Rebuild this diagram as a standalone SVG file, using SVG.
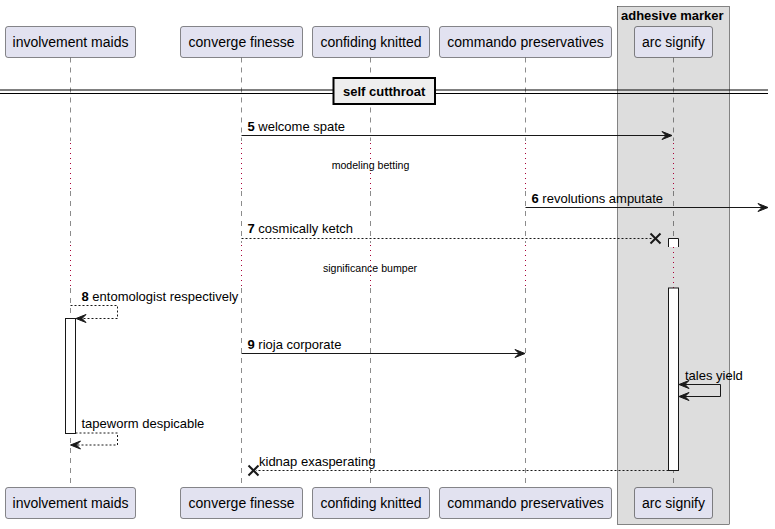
<svg xmlns="http://www.w3.org/2000/svg" width="775" height="529" viewBox="0 0 775 529">
<defs>
<style>
.t{font-family:"Liberation Sans",Arial,sans-serif;fill:#000}
.pt{font-size:14px}
.mt{font-size:13px}
.dt{font-size:10.6px}
.b{font-weight:bold}
.pbox{fill:#E2E2F0;stroke:#181818;stroke-width:0.5}
.life{stroke:#181818;stroke-width:0.5;stroke-dasharray:5,5;fill:none}
.delay{stroke:#A80036;stroke-width:1;stroke-dasharray:1,4;fill:none}
.msg{stroke:#181818;stroke-width:1;fill:none}
.dash{stroke:#181818;stroke-width:1;fill:none;stroke-dasharray:2,2}
.ah{fill:#181818;stroke:#181818;stroke-width:1}
.act{fill:#FFFFFF;stroke:#181818;stroke-width:1}
.x{stroke:#181818;stroke-width:2}
</style>
</defs>
<rect width="775" height="529" fill="#FFFFFF"/>

<g id="box-adhesive-marker">
<rect x="617.5" y="6.5" width="112" height="518" fill="#DDDDDD" stroke="#181818" stroke-width="0.5"/>
<text class="t mt b" x="621" y="19.5">adhesive marker</text>
</g>

<g id="lifelines">
<line class="life" x1="70.5" y1="57.5" x2="70.5" y2="141"/>
<line class="delay" x1="70.5" y1="143" x2="70.5" y2="191"/>
<line class="life" x1="70.5" y1="191" x2="70.5" y2="243"/>
<line class="delay" x1="70.5" y1="245" x2="70.5" y2="288"/>
<line class="life" x1="70.5" y1="288" x2="70.5" y2="487.5"/>

<line class="life" x1="241.5" y1="57.5" x2="241.5" y2="141"/>
<line class="delay" x1="241.5" y1="143" x2="241.5" y2="191"/>
<line class="life" x1="241.5" y1="191" x2="241.5" y2="243"/>
<line class="delay" x1="241.5" y1="245" x2="241.5" y2="288"/>
<line class="life" x1="241.5" y1="288" x2="241.5" y2="487.5"/>

<line class="life" x1="370.5" y1="57.5" x2="370.5" y2="141"/>
<line class="delay" x1="370.5" y1="143" x2="370.5" y2="191"/>
<line class="life" x1="370.5" y1="191" x2="370.5" y2="243"/>
<line class="delay" x1="370.5" y1="245" x2="370.5" y2="288"/>
<line class="life" x1="370.5" y1="288" x2="370.5" y2="487.5"/>

<line class="life" x1="525.5" y1="57.5" x2="525.5" y2="141"/>
<line class="delay" x1="525.5" y1="143" x2="525.5" y2="191"/>
<line class="life" x1="525.5" y1="191" x2="525.5" y2="243"/>
<line class="delay" x1="525.5" y1="245" x2="525.5" y2="288"/>
<line class="life" x1="525.5" y1="288" x2="525.5" y2="487.5"/>

<line class="life" x1="673.5" y1="57.5" x2="673.5" y2="141"/>
<line class="delay" x1="673.5" y1="143" x2="673.5" y2="191"/>
<line class="life" x1="673.5" y1="191" x2="673.5" y2="243"/>
<line class="delay" x1="673.5" y1="247" x2="673.5" y2="288"/>
<line class="life" x1="673.5" y1="288" x2="673.5" y2="487.5"/>
</g>

<g id="participant-involvement-maids">
<rect class="pbox" x="5.5" y="26.5" width="130" height="31" rx="2.5"/>
<text class="t pt" x="70.5" y="47" text-anchor="middle">involvement maids</text>
<rect class="pbox" x="5.5" y="487.5" width="130" height="31" rx="2.5"/>
<text class="t pt" x="70.5" y="508" text-anchor="middle">involvement maids</text>
</g>
<g id="participant-converge-finesse">
<rect class="pbox" x="180.5" y="26.5" width="122" height="31" rx="2.5"/>
<text class="t pt" x="241.5" y="47" text-anchor="middle">converge finesse</text>
<rect class="pbox" x="180.5" y="487.5" width="122" height="31" rx="2.5"/>
<text class="t pt" x="241.5" y="508" text-anchor="middle">converge finesse</text>
</g>
<g id="participant-confiding-knitted">
<rect class="pbox" x="312.5" y="26.5" width="117" height="31" rx="2.5"/>
<text class="t pt" x="371" y="47" text-anchor="middle">confiding knitted</text>
<rect class="pbox" x="312.5" y="487.5" width="117" height="31" rx="2.5"/>
<text class="t pt" x="371" y="508" text-anchor="middle">confiding knitted</text>
</g>
<g id="participant-commando-preservatives">
<rect class="pbox" x="439.5" y="26.5" width="172" height="31" rx="2.5"/>
<text class="t pt" x="525.5" y="47" text-anchor="middle">commando preservatives</text>
<rect class="pbox" x="439.5" y="487.5" width="172" height="31" rx="2.5"/>
<text class="t pt" x="525.5" y="508" text-anchor="middle">commando preservatives</text>
</g>
<g id="participant-arc-signify">
<rect class="pbox" x="634.5" y="26.5" width="78" height="31" rx="2.5"/>
<text class="t pt" x="673.5" y="47" text-anchor="middle">arc signify</text>
<rect class="pbox" x="634.5" y="487.5" width="78" height="31" rx="2.5"/>
<text class="t pt" x="673.5" y="508" text-anchor="middle">arc signify</text>
</g>

<g id="activations">
<rect class="act" x="65.5" y="318.5" width="10" height="115"/>
<path class="act" d="M668.5,247 V238.5 H678.5 V247"/>
<rect class="act" x="668.5" y="288" width="10" height="182.5"/>
</g>

<g id="divider-self-cutthroat">
<line x1="0" y1="90" x2="768" y2="90" stroke="#000" stroke-width="1"/>
<line x1="0" y1="93.5" x2="768" y2="93.5" stroke="#000" stroke-width="1"/>
<rect x="333.5" y="78" width="101.5" height="26" fill="#EEEEEE" stroke="#000" stroke-width="2"/>
<text class="t mt b" x="384.2" y="96" text-anchor="middle">self cutthroat</text>
</g>

<g id="delay-labels">
<text class="t dt" x="370.5" y="168.5" text-anchor="middle">modeling betting</text>
<text class="t dt" x="370" y="271.5" text-anchor="middle">significance bumper</text>
</g>

<g id="connectors">
<line class="msg" x1="241.5" y1="135.5" x2="670" y2="135.5"/>
<polygon class="ah" points="672,135.5 662,131.5 666,135.5 662,139.5"/>
<text class="t mt" x="247.5" y="131"><tspan class="b">5</tspan> welcome spate</text>

<line class="msg" x1="525.5" y1="207.5" x2="766" y2="207.5"/>
<polygon class="ah" points="768,207.5 758,203.5 762,207.5 758,211.5"/>
<text class="t mt" x="531.5" y="203"><tspan class="b">6</tspan> revolutions amputate</text>

<line class="dash" x1="241.5" y1="238.5" x2="652" y2="238.5"/>
<line class="x" x1="650.5" y1="233.5" x2="660.5" y2="243.5"/>
<line class="x" x1="650.5" y1="243.5" x2="660.5" y2="233.5"/>
<text class="t mt" x="247.5" y="232.5"><tspan class="b">7</tspan> cosmically ketch</text>

<path class="dash" d="M70.5,305.5 H117.5 V318.5 H78"/>
<polygon class="ah" points="76,318.5 86,314.5 82,318.5 86,322.5"/>
<text class="t mt" x="81.5" y="300.5"><tspan class="b">8</tspan> entomologist respectively</text>

<line class="msg" x1="241.5" y1="353.5" x2="523" y2="353.5"/>
<polygon class="ah" points="525,353.5 515,349.5 519,353.5 515,357.5"/>
<text class="t mt" x="247.5" y="349"><tspan class="b">9</tspan> rioja corporate</text>

<path class="msg" d="M681,384.5 H720.5 V396.5 H681"/>
<polygon class="ah" points="679,384.5 689,380.5 685,384.5 689,388.5"/>
<polygon class="ah" points="679,396.5 689,392.5 685,396.5 689,400.5"/>
<text class="t mt" x="685" y="379.5">tales yield</text>

<path class="dash" d="M75.5,433 H117.5 V445 H72.5"/>
<polygon class="ah" points="70.5,445 80.5,441 76.5,445 80.5,449"/>
<text class="t mt" x="81.5" y="428">tapeworm despicable</text>

<line class="dash" x1="668.5" y1="470.5" x2="256" y2="470.5"/>
<line class="x" x1="248.5" y1="465.5" x2="258.5" y2="475.5"/>
<line class="x" x1="248.5" y1="475.5" x2="258.5" y2="465.5"/>
<text class="t mt" x="259" y="466">kidnap exasperating</text>
</g>
</svg>
